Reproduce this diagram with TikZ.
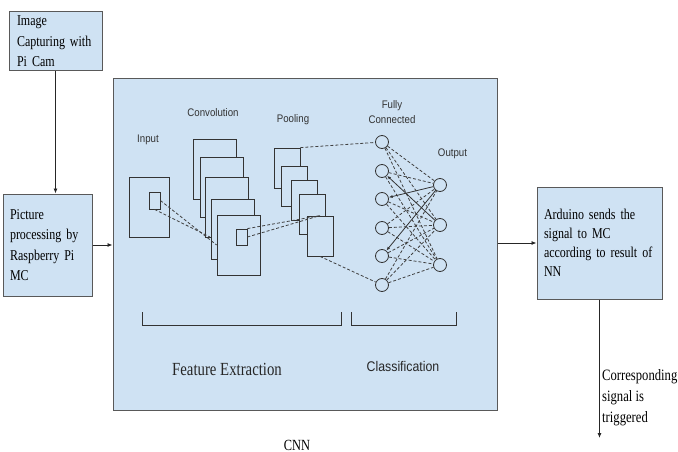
\documentclass[tikz,border=0pt]{standalone}
\usepackage{fontspec}
\setmainfont{Liberation Serif}
\newfontfamily\bxfont[FakeStretch=0.8]{Liberation Serif}
\newfontfamily\lbfont[FakeStretch=0.88]{Liberation Sans}
\usetikzlibrary{arrows.meta,positioning,calc}
\definecolor{pale}{HTML}{CFE2F3}
\definecolor{edge}{HTML}{595959}
\tikzset{blk/.style={draw=edge,fill=pale,line width=1pt,align=left,inner sep=0pt,font=\bxfont\fontsize{15}{20.5}\selectfont},
 lay/.style={draw=black!80,fill=pale,line width=.8pt,inner sep=0pt},
 neu/.style={circle,draw=black!80,fill=pale,line width=.8pt,minimum size=13pt,inner sep=0pt},
 lbl/.style={font=\lbfont\fontsize{11}{15}\selectfont,text=black!80,align=center},
 flow/.style={-{Latex[length=5pt,width=4pt]},line width=.8pt,draw=black!85},
 dsh/.style={dash pattern=on 3pt off 2pt,line width=.8pt,draw=black!75},
 back/.style={-{Latex[length=4pt,width=3pt]},line width=.8pt,draw=black!80},
 brk/.style={line width=.8pt,draw=black!80}}
\begin{document}
\begin{tikzpicture}[x=1pt,y=-1pt]
\useasboundingbox (0,0) rectangle (678,452);
% outer blocks
\node[blk,minimum width=93pt,minimum height=59pt,text width=77pt] (cap) at (55.5,41.5){Image\\Capturing with\\Pi Cam};
\node[blk,minimum width=89pt,minimum height=102pt,text width=75pt] (proc) at (47.5,245){Picture\\processing by\\Raspberry Pi\\MC};
\node[draw=edge,fill=pale,line width=1pt,minimum width=384pt,minimum height=331pt] (cnn) at (305,244.5){};
\node[blk,minimum width=125pt,minimum height=112pt,text width=111pt,font=\bxfont\fontsize{15}{19}\selectfont] (ard) at (599.5,243){Arduino sends the\\signal to MC\\according to result of\\NN};
\coordinate (trg) at (600,438);
\draw[flow](cap.south)--(cap.south|-proc.north);
\draw[flow](proc.east)--(proc.east-|cnn.west);
\draw[flow](cnn.east|-ard.west)--(ard.west);
\draw[flow](ard.south)--(ard.south|-trg);
\node[font=\bxfont\fontsize{15.8}{21}\selectfont,align=left,anchor=west,inner sep=0pt] (sig) at (602,398){Corresponding\\signal is\\triggered};
% input and convolution
\node[lay,minimum width=40pt,minimum height=60pt] (inp) at (149,207){};
\node[lay,minimum width=11pt,minimum height=17pt] (isq) at (154.5,200.5){};
\foreach \i/\x/\y in {1/214.5/169,2/221.5/187,3/226.5/207,4/232.5/229,5/238.5/245}
 \node[lay,minimum width=43pt,minimum height=60pt] (c\i) at (\x,\y){};
\node[lay,minimum width=11pt,minimum height=16pt] (csq) at (241.5,237){};
\coordinate (k1) at (210,237);
\draw[dsh](isq.east)--(c5.west);\draw[dsh](isq.south)--(k1);
% pooling
\foreach \i/\x/\y in {1/287/168,2/294/186,3/304/200,4/312/214,5/320/236}
 \node[lay,minimum width=26pt,minimum height=40pt] (p\i) at (\x,\y){};
\draw[dsh](csq.north east)--(p5.north);\draw[dsh](csq.east)--(p5.north);
% fully connected and output
\foreach \i/\y in {1/142,2/171,3/199,4/228,5/256,6/285}
 \node[neu] (f\i) at (382,\y){};
\foreach \i/\y in {1/185,2/225,3/265}
 \node[neu] (o\i) at (440,\y){};
\foreach \i in {1,...,6}{\foreach \j in {1,2,3}{
 \ifnum\i\j=22\relax\else\ifnum\i\j=31\relax\else\ifnum\i\j=51\relax\else
 \draw[dsh](f\i)--(o\j);\fi\fi\fi}}
\draw[back](o2)--(f2);\draw[back](o1)--(f3);\draw[back](o1)--(f5);
\draw[dsh](p1.north east)--(f1);\draw[dsh](p5.south)--(f6);
% labels
\node[lbl] (lin) at (148,140){Input};
\node[lbl] (lcv) at (213,113){Convolution};
\node[lbl] (lpl) at (293,120){Pooling};
\node[lbl] (lfc) at (392,112){Fully\\Connected};
\node[lbl] (lout) at (452.5,154){Output};
\draw[brk](142,312)--(142,325)--(341,325)--(341,312);
\draw[brk](351,312)--(351,325)--(456,325)--(456,312);
\node[font=\bxfont\fontsize{18.5}{20}\selectfont,text=black!85] (fe) at (227,369){Feature Extraction};
\node[font=\lbfont\fontsize{14}{16}\selectfont,text=black!85] (cl) at (403,366){Classification};
\node[font=\bxfont\fontsize{15.5}{17}\selectfont] (cnnl) at (297,445){CNN};
\end{tikzpicture}
\end{document}
